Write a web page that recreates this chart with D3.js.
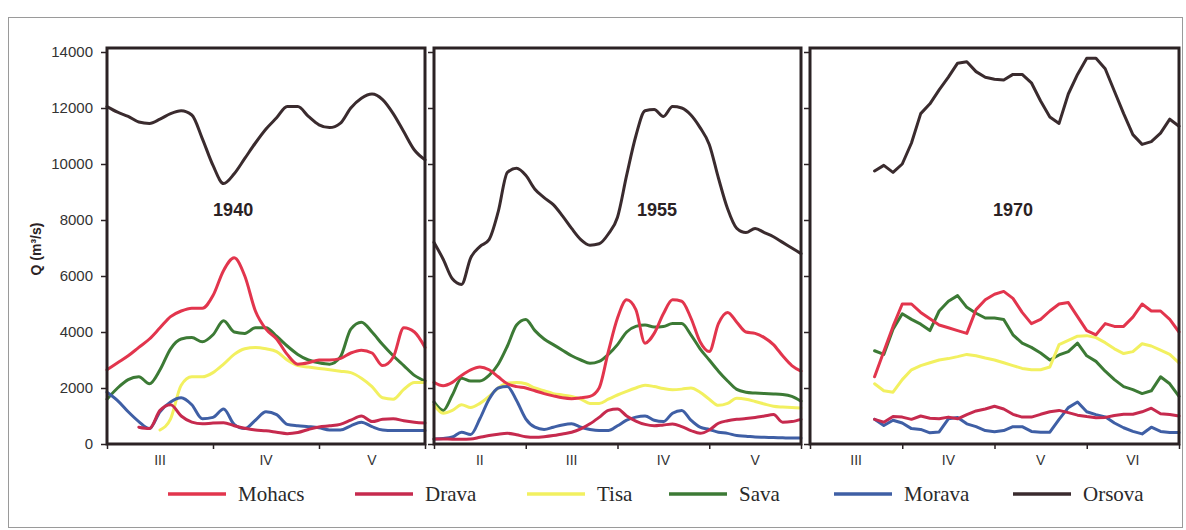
<!DOCTYPE html>
<html>
<head>
<meta charset="utf-8">
<script src="https://cdn.jsdelivr.net/npm/d3@7/dist/d3.min.js"></script>
<style>
  body { margin: 0; background: #fff; }
  svg { display: block; }
</style>
</head>
<body>
<script>
// all series sampled every 0.1 month from the start of the panel
var step = 0.1;

var rivers = ["Mohacs", "Drava", "Tisa", "Sava", "Morava", "Orsova"];
var riverColors = ["#e2354d", "#c62a4e", "#f2f060", "#3c7a35", "#3f5fa5", "#3a2b2e"];
var yTicks = [0, 2000, 4000, 6000, 8000, 10000, 12000, 14000];

var months1940 = ["III", "IV", "V"];
var months1955 = ["II", "III", "IV", "V"];
var months1970 = ["III", "IV", "V", "VI"];

// 1940 : March - May
var mohacs1940 = [2650,2900,3150,3450,3750,4150,4550,4750,4850,4850,5300,6200,6650,6000,4750,4100,3750,3200,2850,2900,3000,3000,3050,3250,3350,3250,2800,3100,4150,4000,3450];
var drava1940  = [null,null,null,600,550,1200,1400,1000,780,720,750,760,650,560,500,470,420,370,410,520,610,650,700,850,1000,800,880,900,830,780,750];
var tisa1940   = [null,null,null,null,null,500,900,2100,2400,2400,2550,2850,3200,3400,3450,3400,3300,3000,2800,2750,2700,2650,2600,2550,2350,2050,1650,1600,1950,2200,2200];
var sava1940   = [1600,2000,2300,2400,2150,2650,3400,3750,3800,3650,3900,4400,4000,3950,4150,4150,3850,3500,3200,3000,2900,2850,3100,4100,4350,4000,3550,3150,2800,2450,2250];
var morava1940 = [1850,1550,1150,800,550,1150,1500,1650,1400,900,950,1250,700,550,850,1150,1050,700,650,620,580,500,500,650,780,620,500,480,480,480,480];
var orsova1940 = [12050,11850,11700,11500,11450,11600,11800,11900,11750,10900,9950,9300,9650,10200,10750,11250,11650,12050,12050,11700,11400,11300,11450,12000,12350,12500,12300,11800,11150,10500,10150];

// 1955 : February - May
var mohacs1955 = [2200,2080,2200,2450,2650,2750,2650,2400,2150,2050,2000,1900,1800,1720,1650,1620,1650,1700,2000,3300,4500,5150,4800,3600,3950,4650,5150,5100,4500,3650,3300,4300,4700,4350,4000,3950,3800,3550,3150,2800,2600];
var drava1955  = [180,180,170,170,180,240,300,350,380,330,260,240,260,300,360,420,540,720,950,1200,1250,1000,820,700,650,680,710,620,480,380,500,740,830,880,910,950,1000,1050,780,800,880];
var tisa1955   = [1400,1100,1200,1400,1300,1450,1700,2000,2180,2200,2150,2000,1900,1800,1750,1700,1600,1450,1450,1600,1750,1880,2000,2100,2050,1980,1940,1960,2000,1850,1600,1380,1450,1630,1600,1520,1430,1350,1320,1300,1290];
var sava1955   = [1500,1200,1750,2350,2250,2250,2450,2850,3500,4250,4450,4050,3750,3550,3350,3150,3000,2880,2950,3200,3550,4000,4200,4250,4180,4200,4300,4300,3900,3400,3000,2600,2250,1950,1850,1820,1800,1790,1770,1700,1530];
var morava1955 = [180,200,250,420,340,900,1600,2000,2050,1550,900,600,520,600,680,720,600,520,480,480,650,850,960,1000,850,800,1100,1200,850,600,520,420,380,300,280,250,240,230,220,210,210];
var orsova1955 = [7200,6600,5900,5700,6650,7050,7300,8300,9700,9850,9600,9100,8800,8550,8150,7700,7300,7100,7150,7500,8100,9600,11000,11900,11950,11700,12050,12000,11750,11300,10700,9500,8400,7700,7550,7700,7550,7400,7200,7000,6800];

// 1970 : March - June, records begin mid March
var start1970 = 0.7;
var mohacs1970 = [2400,3300,4200,5000,5000,4700,4470,4250,4150,4050,3950,4800,5150,5350,5450,5200,4700,4300,4450,4750,5000,5050,4550,4050,3900,4300,4200,4200,4530,5000,4750,4750,4450,4000];
var drava1970  = [880,780,980,960,880,1000,920,900,960,900,1050,1180,1250,1350,1250,1060,960,960,1060,1150,1200,1120,1030,980,940,950,1020,1060,1060,1150,1280,1080,1050,1000];
var tisa1970   = [2150,1900,1850,2300,2650,2800,2900,3000,3050,3120,3200,3150,3070,3000,2900,2800,2700,2650,2650,2750,3550,3700,3850,3870,3800,3620,3400,3230,3300,3580,3500,3350,3200,2900];
var sava1970   = [3330,3200,4100,4650,4450,4280,4050,4750,5100,5300,4880,4670,4500,4500,4450,3900,3600,3450,3250,3000,3180,3300,3600,3150,2950,2600,2300,2050,1940,1800,1900,2400,2150,1700];
var morava1970 = [880,660,850,750,550,520,400,430,900,950,720,620,480,440,480,620,620,450,420,420,880,1300,1500,1150,1050,970,750,580,450,360,600,450,410,410];
var orsova1970 = [9750,9950,9700,10000,10750,11800,12150,12650,13100,13600,13650,13300,13100,13030,13000,13200,13200,12900,12250,11680,11450,12500,13200,13780,13780,13400,12600,11800,11050,10700,10800,11100,11600,11350];

var W = 1186, H = 530;
var frameTop = 48, frameBottom = 444;

var svg = d3.select("body").append("svg")
  .attr("width", W)
  .attr("height", H);

// thin grey border around the whole figure
svg.append("rect")
  .attr("x", 8.5).attr("y", 17.5)
  .attr("width", 1174).attr("height", 510)
  .attr("fill", "none")
  .attr("stroke", "#9a9a9a")
  .attr("stroke-width", 1);

var y = d3.scaleLinear().domain([0, 14000]).range([frameBottom, 52]);

function drawPanel(left, right, months, year, titleAt, series, start, curve, showLabels) {

  var x = d3.scaleLinear().domain([0, months.length]).range([left, right]);
  var g = svg.append("g").attr("class", "panel_" + year);

  // series (Orsova drawn first, Mohacs last)
  var order = [5, 3, 2, 4, 1, 0];
  order.forEach(function (k) {
    var line = d3.line()
      .defined(function (d) { return d != null; })
      .x(function (d, i) { return x(start + i * step); })
      .y(function (d) { return y(d); })
      .curve(curve);
    g.append("path")
      .datum(series[k])
      .attr("d", line)
      .attr("fill", "none")
      .attr("stroke", riverColors[k])
      .attr("stroke-width", 3)
      .attr("stroke-linejoin", "round")
      .attr("stroke-linecap", "round");
  });

  // y axis ticks (labels only on the first panel)
  var yAxis = d3.axisLeft(y).tickValues(yTicks).tickSize(6).tickPadding(8)
    .tickFormat(showLabels ? function (d) { return d; } : function () { return ""; });
  var ya = g.append("g").attr("transform", "translate(" + left + ",0)").call(yAxis);
  ya.select(".domain").remove();
  ya.selectAll("line").attr("stroke", "#2b2224").attr("stroke-width", 1.5);
  ya.selectAll("text")
    .attr("fill", "#333")
    .style("font-family", "'Liberation Sans', Arial, sans-serif")
    .style("font-size", "15px");

  // month boundaries
  var xAxis = d3.axisBottom(x).tickValues(d3.range(months.length + 1)).tickSize(5).tickFormat("");
  var xa = g.append("g").attr("transform", "translate(0," + frameBottom + ")").call(xAxis);
  xa.select(".domain").remove();
  xa.selectAll("line").attr("stroke", "#2b2224").attr("stroke-width", 1.5);

  // month names centred in each month
  g.selectAll(".month")
    .data(months)
    .enter()
    .append("text")
    .attr("class", "month")
    .attr("x", function (d, i) { return x(i + 0.5); })
    .attr("y", 465)
    .attr("text-anchor", "middle")
    .attr("fill", "#333")
    .style("font-family", "'Liberation Sans', Arial, sans-serif")
    .style("font-size", "14px")
    .text(function (d) { return d; });

  // frame
  g.append("rect")
    .attr("x", left)
    .attr("y", frameTop)
    .attr("width", right - left)
    .attr("height", frameBottom - frameTop)
    .attr("fill", "none")
    .attr("stroke", "#2b2224")
    .attr("stroke-width", 3);

  g.append("text")
    .attr("x", x(titleAt))
    .attr("y", y(8300))
    .attr("text-anchor", "middle")
    .attr("dominant-baseline", "middle")
    .attr("fill", "#2b2224")
    .style("font-family", "'Liberation Sans', Arial, sans-serif")
    .style("font-weight", "bold")
    .style("font-size", "18px")
    .text(year);
}

drawPanel(107, 425, months1940, "1940", 1.19,
  [mohacs1940, drava1940, tisa1940, sava1940, morava1940, orsova1940], 0, d3.curveMonotoneX, true);
drawPanel(434, 801, months1955, "1955", 2.43,
  [mohacs1955, drava1955, tisa1955, sava1955, morava1955, orsova1955], 0, d3.curveMonotoneX, false);
drawPanel(810, 1179, months1970, "1970", 2.2,
  [mohacs1970, drava1970, tisa1970, sava1970, morava1970, orsova1970], start1970, d3.curveLinear, false);

// y label
svg.append("text")
  .attr("transform", "translate(41,249) rotate(-90)")
  .attr("text-anchor", "middle")
  .attr("fill", "#2b2224")
  .style("font-family", "'Liberation Sans', Arial, sans-serif")
  .style("font-weight", "bold")
  .style("font-size", "14px")
  .text("Q (m³/s)");

// legend
var legendX = [168, 355, 527, 669, 834, 1013];
var legend = svg.append("g").attr("class", "legend");
rivers.forEach(function (name, i) {
  legend.append("line")
    .attr("x1", legendX[i]).attr("x2", legendX[i] + 58)
    .attr("y1", 494).attr("y2", 494)
    .attr("stroke", riverColors[i])
    .attr("stroke-width", 3.5);
  legend.append("text")
    .attr("x", legendX[i] + 70)
    .attr("y", 501)
    .attr("fill", "#2a2a2a")
    .style("font-family", "'Liberation Serif', 'Times New Roman', serif")
    .style("font-size", "21px")
    .text(name);
});
</script>
</body>
</html>
